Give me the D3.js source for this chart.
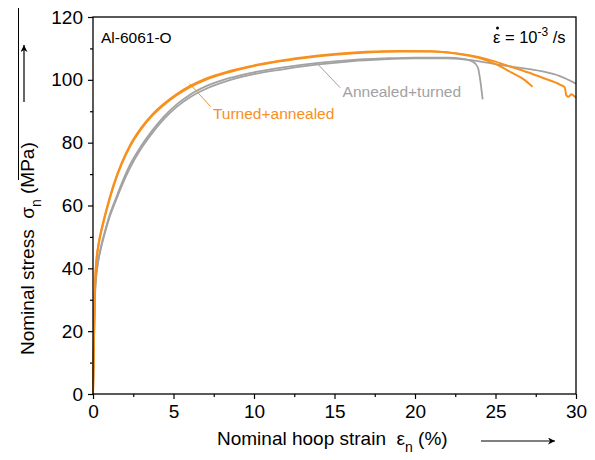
<!DOCTYPE html>
<html><head><meta charset="utf-8">
<script src="https://cdn.jsdelivr.net/npm/d3@7"></script>
<style>body{margin:0;background:#fff}svg{display:block;font-family:"Liberation Sans",Arial,sans-serif}text{white-space:pre}</style>
</head><body><svg id="c" width="595" height="460"></svg>
<script>
// ---- data (strain %, nominal stress MPa) ----
const orangeA_strain = [0,0.05,0.1,0.15,0.22,0.35,0.6,0.9,1.3,1.8,2.3,3,3.7,4.4,5.2,6,7,8.5,10,11.6,13,15,17,19,21,22.5,24,25,26,26.8,27.3];
const orangeA_stress = [0,15,30,38,43,48,54,60,67,73.8,79.2,84.8,89.1,92.4,95.5,98,100.4,102.8,104.6,106.1,107.1,108.2,108.9,109.2,109.1,108.4,106.9,105,102.3,100,97.8];
const orangeB_strain = [0,0.05,0.1,0.15,0.22,0.35,0.6,0.9,1.3,1.8,2.3,3,3.7,4.4,5.2,6,7,8.5,10,11.6,13,15,17,19,21,22.5,24,25,26,27,28,29,29.3,29.4,29.55,29.7,29.85,30];
const orangeB_stress = [0,14,29,37,42.5,47.5,53.5,59.5,66.5,73.4,78.8,84.4,88.7,92,95.1,97.6,100,102.5,104.4,105.9,106.9,108,108.7,109,109,108.5,107.2,105.8,104.1,102.4,100.5,98.5,97.6,95,94.6,95.4,95,94.4];
const grayA_strain = [0,0.05,0.1,0.15,0.25,0.5,0.7,1,1.4,1.9,2.3,3,3.7,4.4,5.2,6,7,8.5,10,11.6,14,16,18,20,22,23,23.6,23.9,24.05,24.15,24.2];
const grayA_stress = [0,14,28,35,40,47,51,56.5,62,68.5,73,79,84,88.3,92.2,95.2,97.9,100.6,102.4,103.8,105.4,106.3,106.8,107.1,107.1,106.7,105.8,104,100,96,93.8];
const grayB_strain = [0,0.05,0.1,0.15,0.25,0.5,0.7,1,1.4,1.9,2.3,3,3.7,4.4,5.2,6,7,8.5,10,11.6,14,16,18,20,22,23,24,25,26,27,28,29,30];
const grayB_stress = [0,13,27,34,39.5,46.5,50.5,55.8,61.3,67.6,72,78.2,83.2,87.5,91.4,94.4,97.1,99.9,101.8,103.2,104.9,105.9,106.5,106.8,106.8,106.5,105.9,105,104.2,103.5,102.6,101.2,98.8];
const xTicks = [0,5,10,15,20,25,30];
const yTicks = [0,20,40,60,80,100,120];

const orange = "#f7901e", gray = "#a2a2a2";
const svg = d3.select("#c");
const L=93, R=576, T=17, B=394;
const x = d3.scaleLinear().domain([0,30]).range([L,R]);
const y = d3.scaleLinear().domain([0,120]).range([B,T]);

// axes
const xAxis = svg.append("g").attr("transform",`translate(0,${B})`)
  .call(d3.axisBottom(x).tickValues(xTicks).tickSize(5).tickPadding(6).tickFormat(d3.format("d")));
const yAxis = svg.append("g").attr("transform",`translate(${L},0)`)
  .call(d3.axisLeft(y).tickValues(yTicks).tickSize(5).tickPadding(5).tickFormat(d3.format("d")));
[xAxis,yAxis].forEach(g=>{
  g.select(".domain").remove();
  g.selectAll("line").attr("stroke","#000").attr("stroke-width",1.2);
  g.selectAll("text").attr("font-size",19).attr("fill","#000").attr("font-family","Liberation Sans, Arial, sans-serif");
});
// minor ticks
svg.append("g").attr("transform",`translate(0,${B})`)
  .call(d3.axisBottom(x).tickValues(d3.range(2.5,30,5)).tickSize(3).tickFormat(""))
  .call(g=>{g.select(".domain").remove();g.selectAll("line").attr("stroke","#000").attr("stroke-width",1.2);});
svg.append("g").attr("transform",`translate(${L},0)`)
  .call(d3.axisLeft(y).tickValues(d3.range(10,120,20)).tickSize(3).tickFormat(""))
  .call(g=>{g.select(".domain").remove();g.selectAll("line").attr("stroke","#000").attr("stroke-width",1.2);});

// curves
const line = d3.line().x(d=>x(d[0])).y(d=>y(d[1])).curve(d3.curveMonotoneX);
const series = [
  [grayB_strain,grayB_stress,gray,1.8],
  [grayA_strain,grayA_stress,gray,1.8],
  [orangeB_strain,orangeB_stress,orange,2],
  [orangeA_strain,orangeA_stress,orange,2]
];
const plot = svg.append("g");
series.forEach(([xs,ys,c,w])=>{
  plot.append("path").datum(xs.map((v,i)=>[v,ys[i]]))
    .attr("d",line).attr("fill","none").attr("stroke",c).attr("stroke-width",w).attr("stroke-linejoin","round");
});

// frame
svg.append("rect").attr("x",L).attr("y",T).attr("width",R-L).attr("height",B-T)
  .attr("fill","none").attr("stroke","#000").attr("stroke-width",1.3);

// annotations
svg.append("line").attr("x1",x(6.0)).attr("y1",y(98.8)).attr("x2",x(7.3)).attr("y2",y(91.5))
  .attr("stroke",orange).attr("stroke-width",1);
svg.append("text").attr("x",x(7.45)).attr("y",y(87.6)).attr("font-size",15.5).attr("fill",orange).text("Turned+annealed");
svg.append("line").attr("x1",x(14.0)).attr("y1",y(104.8)).attr("x2",x(15.35)).attr("y2",y(97.5))
  .attr("stroke",gray).attr("stroke-width",1);
svg.append("text").attr("x",x(15.5)).attr("y",y(94.6)).attr("font-size",15.5).attr("fill",gray).text("Annealed+turned");

svg.append("text").attr("x",101).attr("y",43).attr("font-size",15.5).attr("fill","#000").text("Al-6061-O");

// strain rate label
const rt = svg.append("text").attr("x",493).attr("y",43).attr("font-size",16.5).attr("fill","#000");
rt.append("tspan").text("ε");
rt.append("tspan").text(" = 10");
rt.append("tspan").attr("dy",-7).attr("font-size",12).text("-3");
rt.append("tspan").attr("dy",7).text(" /s");
svg.append("circle").attr("cx",497.5).attr("cy",28).attr("r",1.5).attr("fill","#000");

// x axis title
const xt = svg.append("text").attr("x",217).attr("y",445).attr("font-size",19).attr("fill","#000");
xt.append("tspan").text("Nominal hoop strain  ε");
xt.append("tspan").attr("dy",7).attr("font-size",14).text("n");
xt.append("tspan").attr("dy",-7).text(" (%)");
// arrows
const defs = svg.append("defs");
defs.append("marker").attr("id","ah").attr("viewBox","0 0 10 10").attr("refX",10).attr("refY",5)
  .attr("markerWidth",14).attr("markerHeight",7).attr("markerUnits","userSpaceOnUse").attr("orient","auto")
  .append("path").attr("d","M0,0L10,5L0,10L3,5z").attr("fill","#000");
svg.append("line").attr("x1",481).attr("y1",441).attr("x2",555).attr("y2",441)
  .attr("stroke","#000").attr("stroke-width",1.2).attr("marker-end","url(#ah)");

// y axis title
const yt = svg.append("text").attr("transform","translate(34,355) rotate(-90)").attr("font-size",19).attr("fill","#000");
yt.append("tspan").text("Nominal stress  σ");
yt.append("tspan").attr("dy",7).attr("font-size",14).text("n");
yt.append("tspan").attr("dy",-7).text(" (MPa)");
svg.append("line").attr("x1",24).attr("y1",102).attr("x2",24).attr("y2",45)
  .attr("stroke","#000").attr("stroke-width",1.2).attr("marker-end","url(#ah)");
svg.append("line").attr("x1",18.5).attr("y1",8).attr("x2",18.5).attr("y2",180)
  .attr("stroke","#000").attr("stroke-width",1);
</script></body></html>
